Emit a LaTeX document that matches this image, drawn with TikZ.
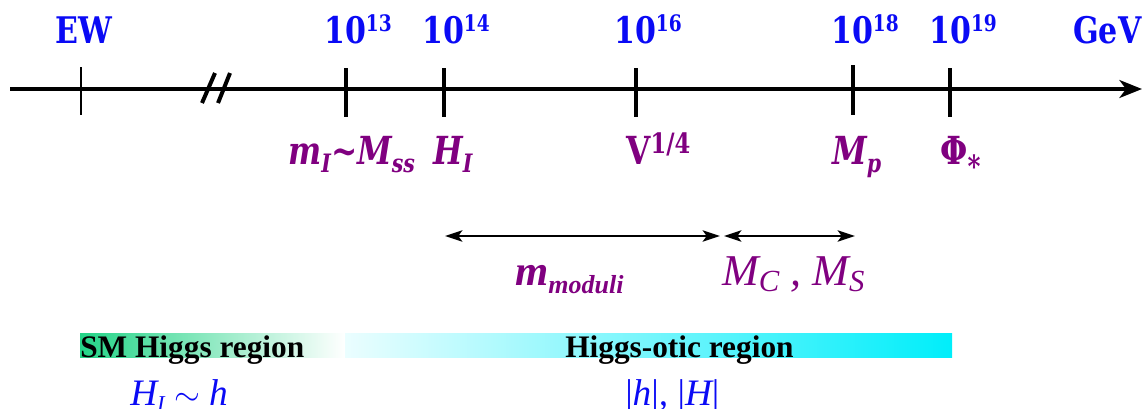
\documentclass[tikz,border=0pt]{standalone}
\usepackage{fontspec}
\usetikzlibrary{arrows.meta}
\newfontfamily\topf[FakeStretch=0.82]{DejaVu Serif}
\newfontfamily\purf[FakeStretch=0.81]{DejaVu Serif}
\newfontfamily\tms{Liberation Serif}
\definecolor{lblue}{RGB}{10,10,245}
\definecolor{lpurp}{RGB}{128,0,128}
\definecolor{sgreen}{RGB}{35,212,135}
\definecolor{scyan}{RGB}{0,238,250}
\newcommand\sups[1]{\raisebox{9pt}{\fontsize{17}{17}\selectfont #1}}
\newcommand\subs[1]{\raisebox{-6pt}{\fontsize{19}{19}\selectfont #1}}
\begin{document}
\begin{tikzpicture}[x=0.75pt,y=-0.75pt,
  toplab/.style={text=lblue, font=\topf\bfseries\fontsize{27.5}{28}\selectfont, inner sep=0, anchor=base},
  plab/.style={text=lpurp, font=\purf\bfseries\itshape\fontsize{29}{29}\selectfont, inner sep=0, anchor=base west},
  tickthin/.style={line width=1.5pt},
  tickthick/.style={line width=2.6pt},
  dbl/.style={line width=1.5pt, {Stealth[length=13pt,width=8.5pt,inset=3pt]}-{Stealth[length=13pt,width=8.5pt,inset=3pt]}},
  bandlab/.style={text=black, font=\tms\bfseries\fontsize{23.5}{23.5}\selectfont, inner sep=0, anchor=base west},
  blab/.style={text=lblue, font=\tms\itshape\fontsize{28}{28}\selectfont, inner sep=0, anchor=base west}
]
\useasboundingbox (0,0) rectangle (1142,408);
% band
\shade[left color=sgreen, right color=white] (80,333) rectangle (345,357);
\shade[left color=scyan!8!white, right color=scyan] (345,333) rectangle (952,357);
% axis
\coordinate (a0) at (10,89);
\coordinate (a1) at (1142,89);
\draw[line width=2.3pt, -{Stealth[length=17pt,width=13.5pt,inset=5pt]}] (a0) -- (a1);
% ticks
\draw[tickthin] (81,67) -- (81,115);
\draw[tickthick] (346,68) -- (346,117);
\draw[tickthick] (444,68) -- (444,117);
\draw[tickthick] (636,68) -- (636,117);
\draw[tickthick] (853,65) -- (853,115);
\draw[tickthick] (950,68) -- (950,117);
% break
\draw[line width=3pt] (202,103) -- (215,73);
\draw[line width=3pt] (218,103) -- (230,73);
% top labels
\node[toplab] (ew) at (84,43) {EW};
\node[toplab] (e13) at (358,43) {10\sups{13}};
\node[toplab] (e14) at (456,43) {10\sups{14}};
\node[toplab] (e16) at (648,43) {10\sups{16}};
\node[toplab] (e18) at (865,43) {10\sups{18}};
\node[toplab] (e19) at (963,43) {10\sups{19}};
\node[toplab, anchor=base west] (gev) at (1073,43) {GeV};
% purple labels
\node[plab] (mi) at (288,164) {m\subs{I}\string~M\subs{ss}};
\node[plab] (hi) at (433,164) {H\subs{I}};
\node[plab] (v) at (626,164) {\upshape V\raisebox{8pt}{\fontsize{21}{21}\selectfont 1/4}};
\node[plab] (mp) at (832,164) {M\subs{p}};
\node[plab] (phi) at (940,164) {\upshape Φ\raisebox{-10pt}{\fontsize{23}{23}\selectfont *}};
% ranges
\coordinate (m0) at (445,236);
\coordinate (m1) at (720,236);
\coordinate (m2) at (724,236);
\coordinate (m3) at (855,236);
\draw[dbl] (m0) -- (m1);
\draw[dbl] (m2) -- (m3);
\node[inner sep=0, anchor=base west, text=lpurp, font=\tms\bfseries\itshape\fontsize{32}{32}\selectfont] (mod) at (515,285) {m\raisebox{-6pt}{\fontsize{19.5}{19.5}\selectfont moduli}};
\node[inner sep=0, anchor=base west, text=lpurp, font=\tms\itshape\fontsize{33}{33}\selectfont] (mcs) at (722,285) {M\raisebox{-5pt}{\fontsize{23}{23}\selectfont C} , M\raisebox{-5pt}{\fontsize{23}{23}\selectfont S}};
% band labels
\node[bandlab] (sm) at (80,357) {SM Higgs region};
\node[bandlab] (ho) at (565,357) {Higgs-otic region};
\node[blab] (hh) at (130,405) {H\raisebox{-5pt}{\fontsize{17}{17}\selectfont I} $\sim$ h};
\node[blab] (abs) at (625,405) {{\upshape|}h{\upshape|}, {\upshape|}H{\upshape|}};
\end{tikzpicture}
\end{document}
